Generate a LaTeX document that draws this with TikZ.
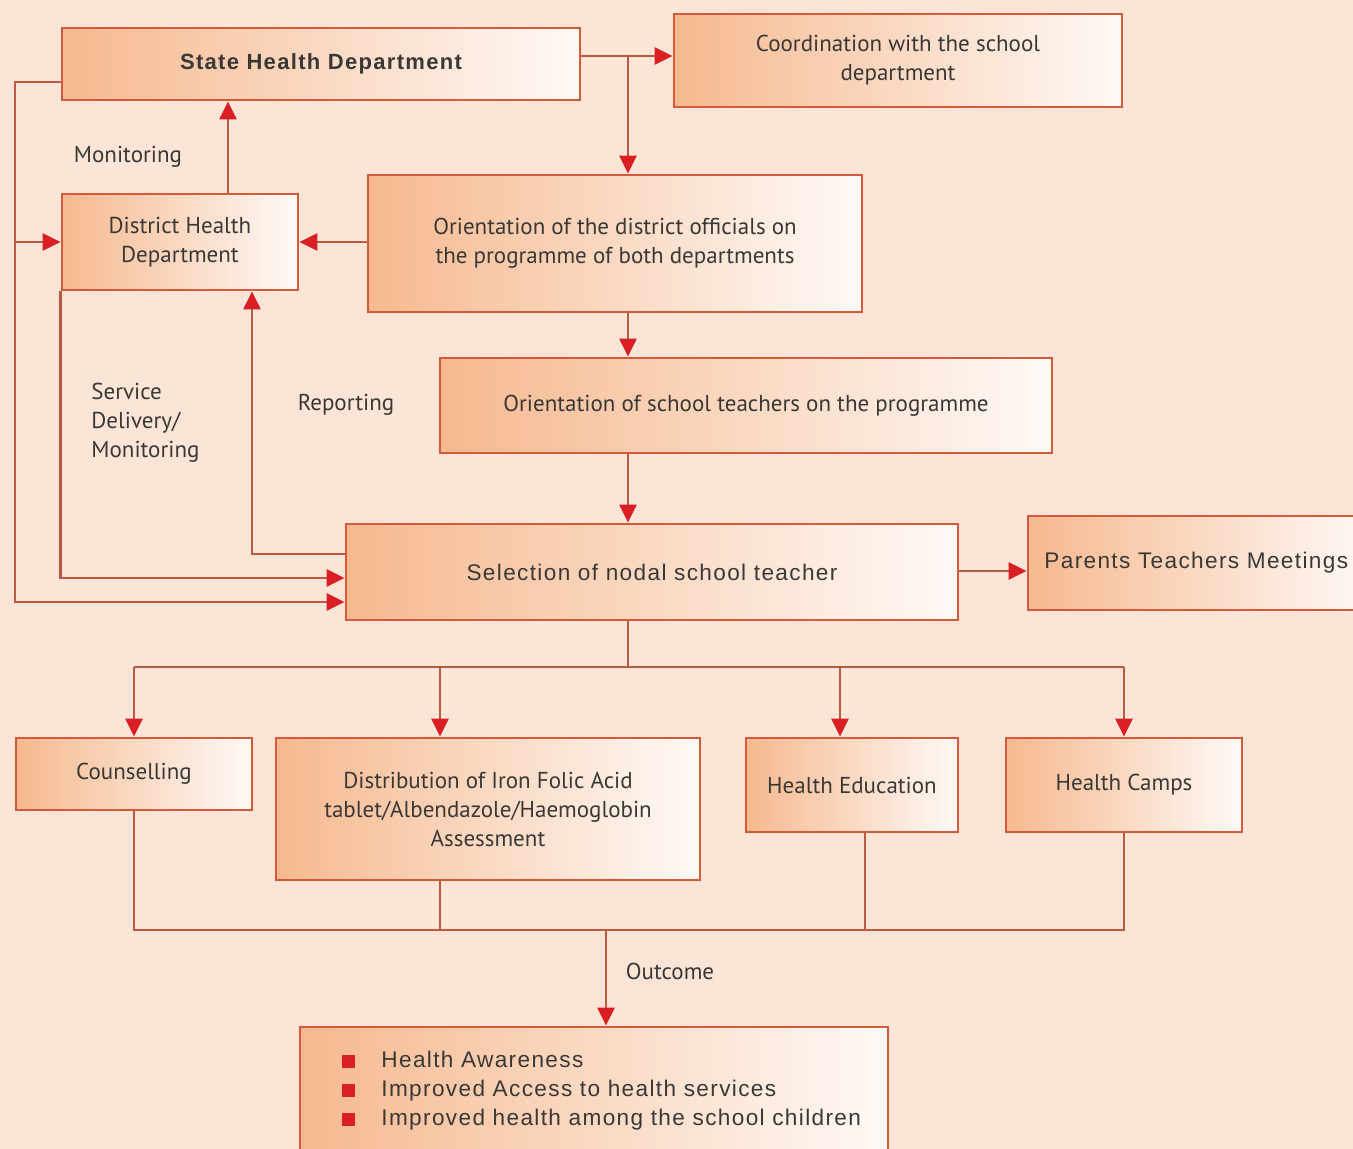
\documentclass[tikz,border=0pt]{standalone}
\usepackage{fontspec}
\setmainfont{PT Sans}
\newfontfamily\helv[LetterSpace=6]{Liberation Sans}
\usetikzlibrary{arrows.meta}
\definecolor{bg}{HTML}{FCE5D7}
\definecolor{boxor}{HTML}{F6B98F}
\definecolor{edge}{HTML}{D45A3C}
\definecolor{wire}{HTML}{B95A42}
\definecolor{tip}{HTML}{D91E24}
\definecolor{txt}{HTML}{3A3836}
\tikzset{
  box/.style={draw=edge, line width=1.4pt, left color=boxor, right color=white!92!boxor,
    inner sep=0pt, text=txt, align=center, font=\fontsize{11.5}{14.5}\selectfont},
  hbox/.style={box, font=\helv\fontsize{11.3}{14.5}\selectfont},
  wire/.style={draw=wire, line width=1.3pt},
  arr/.style={wire, -{Triangle[length=9pt,width=8.5pt,color=tip]}},
  lab/.style={text=txt, font=\fontsize{11.5}{14.5}\selectfont, inner sep=0pt},
  hlab/.style={text=txt, font=\helv\fontsize{11.3}{14.5}\selectfont, inner sep=0pt}
}
\begin{document}
\begin{tikzpicture}[x=0.5pt,y=-0.5pt]
\useasboundingbox (0,0) rectangle (1353,1149);
\fill[bg] (0,0) rectangle (1353,1149);

% boxes
\node[hbox, minimum width=259pt, minimum height=36pt, font=\helv\bfseries\fontsize{11}{14.5}\selectfont] (state) at (321,64) {State Health Department};
\node[box, minimum width=224pt, minimum height=46.5pt] (coord) at (898,60.5) {Coordination with the school\\department};
\node[box, minimum width=118pt, minimum height=48pt] (dist) at (180,242) {District Health\\Department};
\node[box, minimum width=247pt, minimum height=68.5pt] (o1) at (615,243.5) {Orientation of the district officials on\\the programme of both departments};
\node[box, minimum width=306pt, minimum height=47.5pt] (o2) at (746,405.5) {Orientation of school teachers on the programme};
\node[hbox, minimum width=306pt, minimum height=48pt] (sel) at (652,572) {Selection of nodal school teacher};
\node[box, minimum width=171pt, minimum height=47pt] (ptm) at (1199,563) {};
\node[hlab, anchor=west] (ptmt) at (1044,563) {Parents Teachers Meetings};
\node[box, minimum width=118pt, minimum height=36pt] (couns) at (134,774) {Counselling};
\node[box, minimum width=212pt, minimum height=71pt] (iron) at (488,809) {Distribution of Iron Folic Acid\\tablet/Albendazole/Haemoglobin\\Assessment};
\node[box, minimum width=106pt, minimum height=47pt] (hed) at (852,785) {Health Education};
\node[box, minimum width=118pt, minimum height=47pt] (camps) at (1124,785) {Health Camps};
\node[box, minimum width=294pt, minimum height=71.5pt] (out) at (594,1098.5) {};
\node[hlab, anchor=west, align=left] (outt) at (342,1091)
  {\textcolor{tip}{\rule{6.5pt}{6.5pt}}\hspace{13pt}Health Awareness\\
   \textcolor{tip}{\rule{6.5pt}{6.5pt}}\hspace{13pt}Improved Access to health services\\
   \textcolor{tip}{\rule{6.5pt}{6.5pt}}\hspace{13pt}Improved health among the school children};

% labels
\node[lab] (lmon) at (128,157) {Monitoring};
\node[lab] (lrep) at (346,405) {Reporting};
\node[lab, anchor=west, align=left] (lsd) at (91,423) {Service\\Delivery/\\Monitoring};
\node[lab] (lout) at (670,971) {Outcome};

% helper coordinates
\coordinate (y56) at (0,56);
\coordinate (j1) at (628,56);
\coordinate (y82) at (0,82);
\coordinate (c15) at (15,602);
\coordinate (b15) at (15,242);
\coordinate (m228) at (228,0);
\coordinate (r252) at (252,554);
\coordinate (y578) at (0,578);
\coordinate (y571) at (0,571);
\coordinate (h0) at (628,667);
\coordinate (h1) at (134,667);
\coordinate (h2) at (440,667);
\coordinate (h3) at (840,667);
\coordinate (h4) at (1124,667);
\coordinate (g0) at (606,930);
\coordinate (g1) at (134,930);
\coordinate (g2) at (440,930);
\coordinate (g3) at (865,930);
\coordinate (g4) at (1124,930);

% connectors
\draw[arr] (state.east |- y56) -- (coord.west |- y56);
\draw[arr] (j1) -- (o1.north -| j1);
\draw[arr] (state.west |- y82) -| (c15) -- (sel.west |- c15);
\draw[arr] (b15) -- (dist.west);
\draw[arr] (dist.north -| m228) -- (state.south -| m228);
\draw[arr] (o1.west |- dist.east) -- (dist.east);
\draw[arr] (o1.south -| j1) -- (o2.north -| j1);
\draw[arr] (o2.south -| j1) -- (sel.north -| j1);
\draw[arr] (sel.west |- r252) -- (r252) -- (dist.south -| r252);
\draw[arr] (dist.south west) -- (dist.south west |- y578) -- (sel.west |- y578);
\draw[arr] (sel.east |- y571) -- (ptm.west |- y571);
\draw[wire] (sel.south -| h0) -- (h0);
\draw[wire] (h1) -- (h4);
\draw[arr] (h1) -- (couns.north -| h1);
\draw[arr] (h2) -- (iron.north -| h2);
\draw[arr] (h3) -- (hed.north -| h3);
\draw[arr] (h4) -- (camps.north -| h4);
\draw[wire] (couns.south -| g1) -- (g1) -- (g4) -- (camps.south -| g4);
\draw[wire] (iron.south -| g2) -- (g2);
\draw[wire] (hed.south -| g3) -- (g3);
\draw[arr] (g0) -- (out.north -| g0);
\end{tikzpicture}
\end{document}
